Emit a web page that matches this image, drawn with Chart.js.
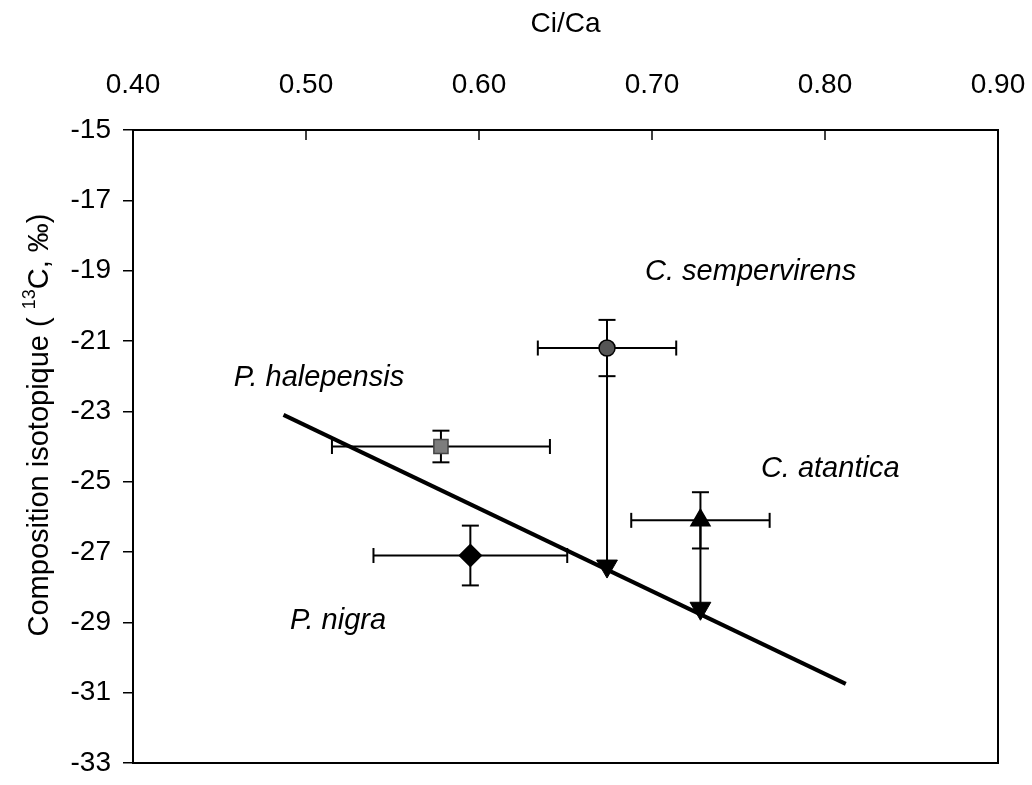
<!DOCTYPE html>
<html>
<head>
<meta charset="utf-8">
<script src="https://cdn.jsdelivr.net/npm/chart.js@4.4.1/dist/chart.umd.min.js"></script>
<style>
  html, body { margin: 0; padding: 0; background: #fff; overflow: hidden; }
  #wrap { width: 1032px; height: 785px; }
</style>
</head>
<body>
<div id="wrap"><canvas id="chart"></canvas></div>
<script>
// Valeurs
const especes = ['P. halepensis', 'P. nigra', 'C. sempervirens', 'C. atantica'];
const ciCa = [0.578, 0.595, 0.674, 0.728];
const ciCaErr = [0.063, 0.056, 0.040, 0.040];
const d13C = [-24.0, -27.1, -21.2, -26.1];
const d13CErr = [0.45, 0.85, 0.80, 0.80];
const d13CModele = [null, null, -27.4, -28.6];   // valeurs sur la droite (flèches)
const droiteX = [0.487, 0.812];
const droiteY = [-23.1, -30.75];
const ticksX = [0.40, 0.50, 0.60, 0.70, 0.80, 0.90];
const ticksY = [-33, -31, -29, -27, -25, -23, -21, -19, -17, -15];

// position des noms (en coordonnées du graphique)
const posNoms = [[0.5075, -22.05], [0.5185, -28.95], [0.757, -19.04], [0.803, -24.65]];

const police = '"Liberation Sans", Arial, sans-serif';
const noir = '#000';

const marqueurs = [
    { style: 'rect', rayon: 10, fond: '#7d7d7d', bord: '#444' },
    { style: 'rectRot', rayon: 11, fond: '#000', bord: '#000' },
    { style: 'circle', rayon: 8, fond: '#555', bord: '#000' },
    { style: 'triangle', rayon: 11, fond: '#000', bord: '#000' }
];

const datasets = [];

// marqueurs observés (au-dessus de tout)
especes.forEach((nom, i) => {
    const m = marqueurs[i];
    datasets.push({
        label: nom,
        data: [{ x: ciCa[i], y: d13C[i] }],
        showLine: false,
        pointStyle: m.style,
        pointRadius: m.rayon,
        pointBackgroundColor: m.fond,
        pointBorderColor: m.bord,
        pointBorderWidth: 1.5
    });
});

// valeurs sur la droite (triangles pointe en bas)
especes.forEach((nom, i) => {
    if (d13CModele[i] === null) return;
    datasets.push({
        data: [{ x: ciCa[i], y: d13CModele[i] }],
        showLine: false,
        pointStyle: 'triangle',
        pointRotation: 180,
        pointRadius: 12,
        pointBackgroundColor: noir,
        pointBorderColor: noir,
        pointBorderWidth: 1
    });
});

// barres d'erreur
especes.forEach((nom, i) => {
    datasets.push({
        data: [{ x: ciCa[i] - ciCaErr[i], y: d13C[i] }, { x: ciCa[i] + ciCaErr[i], y: d13C[i] }],
        showLine: true,
        borderColor: noir,
        borderWidth: 2,
        pointStyle: 'line',
        pointRotation: 90,
        pointRadius: 7.5,
        pointBorderColor: noir,
        pointBorderWidth: 2
    });
    datasets.push({
        data: [{ x: ciCa[i], y: d13C[i] - d13CErr[i] }, { x: ciCa[i], y: d13C[i] + d13CErr[i] }],
        showLine: true,
        borderColor: noir,
        borderWidth: 2,
        pointStyle: 'line',
        pointRotation: 0,
        pointRadius: 8.5,
        pointBorderColor: noir,
        pointBorderWidth: 2
    });
});

// flèches verticales
especes.forEach((nom, i) => {
    if (d13CModele[i] === null) return;
    datasets.push({
        data: [{ x: ciCa[i], y: d13C[i] }, { x: ciCa[i], y: d13CModele[i] }],
        showLine: true,
        borderColor: noir,
        borderWidth: 2,
        pointRadius: 0
    });
});

// droite
datasets.push({
    data: droiteX.map((x, i) => ({ x: x, y: droiteY[i] })),
    showLine: true,
    borderColor: noir,
    borderWidth: 4,
    pointRadius: 0
});

// cadre, graduations du haut, noms des espèces, titre vertical
const habillage = {
    id: 'habillage',
    afterDraw(chart) {
        const { ctx, chartArea: a, scales } = chart;
        ctx.save();
        ctx.strokeStyle = noir;
        ctx.lineWidth = 2;
        ctx.strokeRect(a.left, a.top, a.right - a.left, a.bottom - a.top);

        ctx.lineWidth = 1.5;
        ticksX.forEach(v => {
            const px = scales.x.getPixelForValue(v);
            ctx.beginPath();
            ctx.moveTo(px, a.top);
            ctx.lineTo(px, a.top + 10);
            ctx.stroke();
        });

        ctx.fillStyle = noir;
        ctx.textAlign = 'center';
        ctx.textBaseline = 'middle';
        ctx.font = 'italic 29px ' + police;
        especes.forEach((nom, i) => {
            ctx.fillText(nom, scales.x.getPixelForValue(posNoms[i][0]), scales.y.getPixelForValue(posNoms[i][1]));
        });

        // titre de l'axe Y avec exposant
        const p1 = 'Composition isotopique ( ', p2 = '13', p3 = 'C, ‰)';
        ctx.translate(40, 425);
        ctx.rotate(-Math.PI / 2);
        ctx.textAlign = 'left';
        ctx.font = '29px ' + police;
        const w1 = ctx.measureText(p1).width;
        const w3 = ctx.measureText(p3).width;
        ctx.font = '18px ' + police;
        const w2 = ctx.measureText(p2).width;
        const x0 = -(w1 + w2 + w3) / 2;
        ctx.font = '29px ' + police;
        ctx.fillText(p1, x0, 0);
        ctx.font = '18px ' + police;
        ctx.fillText(p2, x0 + w1, -10);
        ctx.font = '29px ' + police;
        ctx.fillText(p3, x0 + w1 + w2, 0);
        ctx.restore();
    }
};

new Chart(document.getElementById('chart'), {
    type: 'scatter',
    data: { datasets: datasets },
    options: {
        responsive: true,
        maintainAspectRatio: false,
        animation: false,
        events: [],
        layout: { autoPadding: false, padding: { left: 0, top: 0, right: 34, bottom: 22 } },
        plugins: {
            legend: { display: false },
            tooltip: { enabled: false }
        },
        scales: {
            x: {
                type: 'linear',
                position: 'top',
                min: 0.4,
                max: 0.9,
                afterBuildTicks: s => { s.ticks = ticksX.map(v => ({ value: v })); },
                afterFit: s => {
                    s.height = 130;
                    s.paddingLeft = 0; s.paddingRight = 0; s.paddingTop = 0; s.paddingBottom = 0;
                },
                grid: { display: false, drawTicks: false },
                border: { display: false },
                ticks: {
                    padding: 28,
                    color: noir,
                    font: { family: police, size: 28 },
                    maxRotation: 0,
                    callback: v => v.toFixed(2)
                },
                title: {
                    display: true,
                    text: 'Ci/Ca',
                    color: noir,
                    font: { family: police, size: 28 },
                    padding: { top: 7, bottom: 0 }
                }
            },
            y: {
                type: 'linear',
                min: -33,
                max: -15,
                afterBuildTicks: s => { s.ticks = ticksY.map(v => ({ value: v })); },
                afterFit: s => {
                    s.width = 133;
                    s.paddingLeft = 0; s.paddingRight = 0; s.paddingTop = 0; s.paddingBottom = 0;
                },
                grid: { drawOnChartArea: false, drawTicks: true, tickLength: 10, color: noir, lineWidth: 1.5 },
                border: { display: false },
                ticks: {
                    padding: 12,
                    color: noir,
                    font: { family: police, size: 28 },
                    callback: v => String(v)
                }
            }
        }
    },
    plugins: [habillage]
});
</script>
</body>
</html>
